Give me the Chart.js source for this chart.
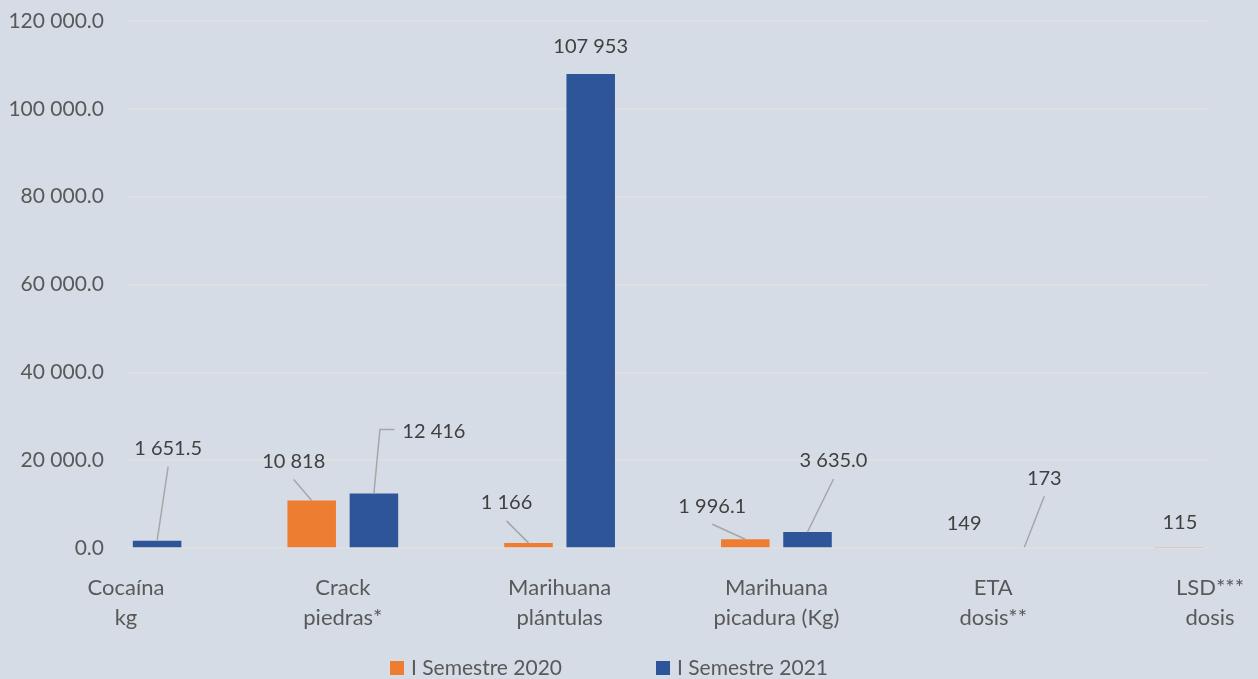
<!DOCTYPE html>
<html>
<head>
<meta charset="utf-8">
<script src="https://cdn.jsdelivr.net/npm/chart.js@4/dist/chart.umd.min.js"></script>
<style>
  html, body { margin: 0; padding: 0; background: #d6dce5; }
  #wrap { width: 1258px; height: 679px; }
</style>
</head>
<body>
<div id="wrap"><canvas id="myChart" width="1258" height="679"></canvas></div>
<script>
// categories (multi-line tick labels)
var categories = [
  ["Cocaína", "kg"],
  ["Crack", "piedras*"],
  ["Marihuana", "plántulas"],
  ["Marihuana", "picadura (Kg)"],
  ["ETA", "dosis**"],
  ["LSD***", "dosis"]
];
var seriesNames = ["I Semestre 2020", "I Semestre 2021"];
var sem2020 = [null, 10818, 1166, 1996.1, 149, 115];
var sem2021 = [1651.5, 12416, 107953, 3635.0, 173, null];
// decimals shown in the data labels, per category
var decimals = [1, 0, 0, 1, 0, 0];
var yMax = 120000;
var yStep = 20000;

var colors = ['#ed7d31', '#2e5597'];

// label placement relative to bar top: [dx, dy, leader]  (leader: 0 none, 1 line, 2 elbow)
var labelPlacement = [
  [null, [-18, -39, 1], [-22, -40, 1], [-33, -33, 1], [2, -24, 0], [1, -25, 0]],
  [[11, -92, 1], [60, -62, 2], [0, -27, 0], [26, -71, 1], [20, -69, 1], null]
];

function fmt(v, d) {
  var s = v.toFixed(d).split('.');
  var g = s[0].replace(/\B(?=(\d{3})+(?!\d))/g, ' ');
  return s.length > 1 ? g + '.' + s[1] : g;
}

var FONT = 'Lato, "Open Sans", sans-serif';

var labelsPlugin = {
  id: 'barLabels',
  afterDatasetsDraw: function (chart) {
    var ctx = chart.ctx;
    ctx.save();
    ctx.font = '20px ' + FONT;
    ctx.textAlign = 'center';
    ctx.textBaseline = 'middle';
    chart.data.datasets.forEach(function (ds, i) {
      var meta = chart.getDatasetMeta(i);
      ds.data.forEach(function (v, j) {
        if (v === null) return;
        var el = meta.data[j];
        var p = labelPlacement[i][j];
        var lx = el.x + p[0], ly = el.y + p[1];
        var txt = fmt(v, decimals[j]);
        ctx.strokeStyle = '#a6a6a6';
        ctx.lineWidth = 1.5;
        if (p[2] === 1) {
          ctx.beginPath();
          ctx.moveTo(el.x, el.y);
          ctx.lineTo(lx, ly + 18);
          ctx.stroke();
        } else if (p[2] === 2) {
          var w = ctx.measureText(txt).width;
          ctx.beginPath();
          ctx.moveTo(el.x, el.y);
          ctx.lineTo(el.x + 6, ly - 2);
          ctx.lineTo(lx - w / 2 - 8, ly - 2);
          ctx.stroke();
        }
        ctx.fillStyle = '#404040';
        ctx.fillText(txt, lx, ly);
      });
    });
    ctx.restore();
  }
};

var legendPlugin = {
  id: 'bottomLegend',
  afterDraw: function (chart) {
    var ctx = chart.ctx;
    ctx.save();
    ctx.font = '21px ' + FONT;
    ctx.textBaseline = 'middle';
    ctx.textAlign = 'left';
    var startX = [390, 656];
    var cy = 668;
    chart.data.datasets.forEach(function (ds, i) {
      ctx.fillStyle = ds.backgroundColor;
      ctx.fillRect(startX[i], cy - 7, 14, 14);
      ctx.fillStyle = '#595959';
      ctx.fillText(ds.label, startX[i] + 21, cy);
    });
    ctx.restore();
  }
};

var ctx = document.getElementById("myChart").getContext('2d');
var myChart = new Chart(ctx, {
  type: 'bar',
  data: {
    labels: categories,
    datasets: [{
      label: seriesNames[0],
      backgroundColor: colors[0],
      data: sem2020,
      barPercentage: 0.78,
      categoryPercentage: 0.574
    },
    {
      label: seriesNames[1],
      backgroundColor: colors[1],
      data: sem2021,
      barPercentage: 0.78,
      categoryPercentage: 0.574
    }]
  },
  plugins: [labelsPlugin, legendPlugin],
  options: {
    responsive: false,
    animation: false,
    events: [],
    layout: { padding: { left: 8, right: 48, top: 21, bottom: 46 } },
    plugins: {
      legend: { display: false },
      tooltip: { enabled: false }
    },
    scales: {
      x: {
        offset: false,
        grid: { display: false, drawTicks: true, tickLength: 25 },
        border: { display: false },
        ticks: {
          color: '#595959',
          font: { family: FONT, size: 22, lineHeight: 1.36 },
          padding: 0,
          maxRotation: 0,
          autoSkip: false
        },
        afterFit: function (s) { s.height = 85; }
      },
      y: {
        min: 0,
        max: yMax,
        border: { display: false },
        grid: { color: '#e0e0e0', lineWidth: 1.5, drawTicks: false },
        ticks: {
          stepSize: yStep,
          color: '#595959',
          font: { family: FONT, size: 21 },
          padding: 22,
          callback: function (v) { return fmt(v, 1); }
        },
        afterFit: function (s) { s.width = 118; s.paddingTop = 0; s.paddingBottom = 0; }
      }
    }
  }
});
</script>
</body>
</html>
